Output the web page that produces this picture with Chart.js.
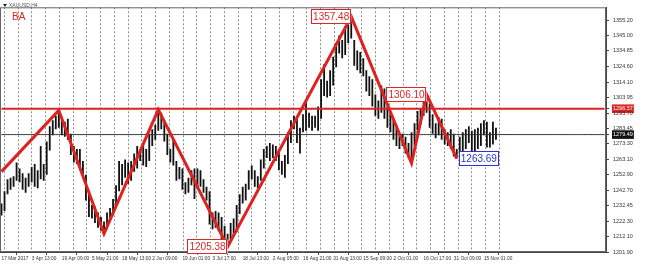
<!DOCTYPE html>
<html>
<head>
<meta charset="utf-8">
<script src="https://cdn.jsdelivr.net/npm/chart.js@4.4.0/dist/chart.umd.min.js"></script>
<style>
  html, body { margin: 0; padding: 0; background: #fff; }
  #wrap { width: 650px; height: 265px; }
</style>
</head>
<body>
<div id="wrap"><canvas id="xauChart"></canvas></div>
<script>
// XAUUSD H4 - one slot is roughly one trading day
const dateLabels = ['17 Mar 2017', '3 Apr 13:00', '19 Apr 09:00', '5 May 21:00', '18 May 13:00',
  '2 Jun 09:00', '19 Jun 01:00', '3 Jul 17:00', '18 Jul 13:00', '2 Aug 05:00', '16 Aug 21:00',
  '31 Aug 13:00', '15 Sep 09:00', '2 Oct 01:00', '16 Oct 17:00', '31 Oct 09:00', '15 Nov 01:00'];

const lows = [
  1226, 1229, 1240, 1243, 1245, 1249, 1248, 1243, 1241, 1245,
  1248, 1245, 1244, 1250, 1249, 1253, 1269, 1279, 1283, 1284,
  1279, 1278, 1276, 1266, 1261, 1260, 1258, 1251, 1236, 1225,
  1224, 1221, 1218, 1216, 1214, 1217, 1222, 1228, 1232, 1242,
  1246, 1251, 1247, 1249, 1255, 1257, 1262, 1259, 1258, 1262,
  1272, 1276, 1282, 1283, 1275, 1266, 1261, 1259, 1249, 1250,
  1243, 1240, 1241, 1246, 1237, 1244, 1245, 1241, 1236, 1220,
  1217, 1218, 1216, 1207, 1209, 1205.4, 1210, 1213, 1215, 1227,
  1234, 1236, 1243, 1250, 1245, 1244, 1249, 1257, 1264, 1262,
  1264, 1262, 1256, 1253, 1251, 1260, 1274, 1283, 1274, 1267,
  1281, 1282, 1284, 1282, 1284, 1282, 1290, 1305, 1304, 1305,
  1312, 1324, 1333, 1330, 1332, 1340, 1343, 1325, 1322, 1320,
  1318, 1308, 1305, 1298, 1292, 1290, 1294, 1290, 1284, 1281,
  1276, 1272, 1270, 1272, 1267, 1264, 1260.5, 1272, 1282, 1286,
  1292, 1294, 1284, 1280, 1277, 1279, 1276, 1273, 1272, 1270,
  1265, 1263.7, 1266, 1268, 1270, 1274, 1266, 1267, 1270, 1272,
  1279, 1271, 1271, 1273, 1276
];
const highs = [
  1234, 1242, 1250, 1251, 1252, 1261, 1257, 1254, 1251, 1254,
  1258, 1260, 1256, 1272, 1260, 1275, 1285, 1289, 1292, 1295.5,
  1290, 1288, 1290, 1280, 1272, 1270, 1270, 1262, 1253, 1240,
  1233, 1232, 1228, 1225, 1222, 1228, 1231, 1237, 1246, 1262,
  1260, 1263, 1261, 1262, 1267, 1272, 1270, 1273, 1270, 1280,
  1283, 1286, 1296, 1294, 1289, 1280, 1270, 1276, 1262, 1258,
  1257, 1248, 1251, 1256, 1257, 1257, 1256, 1250, 1245, 1242,
  1228, 1229, 1228, 1225, 1219, 1214, 1221, 1224, 1233, 1240,
  1245, 1247, 1256, 1259, 1256, 1252, 1263, 1270, 1272, 1274,
  1273, 1272, 1270, 1262, 1266, 1281, 1289, 1292, 1290, 1284,
  1293, 1301, 1294, 1292, 1292, 1298, 1316, 1326, 1315, 1322,
  1331, 1340, 1345, 1342, 1351, 1352, 1357.5, 1342, 1335, 1334,
  1330, 1322, 1318, 1316, 1306, 1302, 1312, 1310, 1298, 1294,
  1289, 1284, 1279, 1280, 1278, 1274, 1281, 1287, 1295, 1297,
  1305, 1306.1, 1300, 1293, 1287, 1291, 1290, 1283, 1281, 1283,
  1280, 1270, 1278, 1281, 1283, 1285, 1282, 1283, 1284, 1287,
  1289, 1288, 1281, 1288, 1284
];

// zigzag vertices (slot index, price)
const zzIdx = [0, 19, 34, 52, 75, 116, 136, 141, 151];
const zzVal = [1255, 1295.5, 1214, 1296, 1205.38, 1357.48, 1260.5, 1306.10, 1263.69];

// price tags on zigzag turns
const tagIdx = [75, 116, 141, 151];
const tagVal = [1205.38, 1357.48, 1306.10, 1263.69];
const tagSide = ['left', 'left', 'left', 'right'];
const tagColor = ['#d8282a', '#d8282a', '#d8282a', '#2a36c4'];

const resistance = 1296.57;
const bid = 1279.49;

const yTicks = [1355.20, 1345.00, 1334.85, 1324.60, 1314.10, 1303.95, 1296.57, 1293.70, 1283.45,
  1279.49, 1273.30, 1263.10, 1252.90, 1242.70, 1232.45, 1222.30, 1212.10, 1201.90];

const N = 201;
const labels = [];
const candles = [];
const zz = new Array(N).fill(null);
for (let i = 0; i < N; i++) {
  labels.push(i % 10 === 0 && dateLabels[i / 10] ? dateLabels[i / 10] : '');
  candles.push(i < lows.length ? [lows[i], highs[i]] : null);
}
zzIdx.forEach((k, j) => { zz[k] = zzVal[j]; });

const RED = '#dc2321';

const overlay = {
  id: 'overlay',
  afterDatasetsDraw(chart) {
    const { ctx, chartArea: a, scales: { x, y } } = chart;
    ctx.save();
    // frame
    ctx.strokeStyle = '#666';
    ctx.lineWidth = 1;
    ctx.strokeRect(a.left + 0.5, a.top + 0.5, a.right - a.left - 1, a.bottom - a.top - 1);

    // price tags
    ctx.font = '10px "Liberation Sans", Arial, sans-serif';
    ctx.textBaseline = 'middle';
    ctx.textAlign = 'left';
    tagIdx.forEach((k, j) => {
      const txt = tagVal[j].toFixed(2);
      const px = x.getPixelForValue(k);
      const py = y.getPixelForValue(tagVal[j]);
      const w = ctx.measureText(txt).width + 4, h = 15;
      const bx = tagSide[j] === 'left' ? px - w : px + 2;
      ctx.fillStyle = '#fff';
      ctx.fillRect(bx, py - h / 2, w, h);
      ctx.strokeStyle = tagColor[j];
      ctx.strokeRect(Math.round(bx) + 0.5, Math.round(py - h / 2) + 0.5, Math.round(w) - 1, h - 1);
      ctx.fillStyle = tagColor[j];
      ctx.fillText(txt, bx + 2, py + 0.5);
    });

    // symbol header
    ctx.fillStyle = '#222';
    ctx.beginPath();
    ctx.moveTo(3, 4); ctx.lineTo(7, 4); ctx.lineTo(5, 7); ctx.closePath();
    ctx.fill();
    ctx.font = '5px "Liberation Sans", Arial, sans-serif';
    ctx.fillStyle = '#555';
    ctx.fillText('XAUUSD,H4', 9, 6);
    ctx.font = '10px "Liberation Sans", Arial, sans-serif';
    ctx.fillStyle = RED;
    ctx.fillText('BA', 12, 17);
    ctx.restore();
  }
};

new Chart(document.getElementById('xauChart'), {
  type: 'bar',
  data: {
    labels: labels,
    datasets: [
      {
        type: 'line',
        data: zz,
        borderColor: RED,
        borderWidth: 3,
        pointRadius: 0,
        spanGaps: true,
        tension: 0,
        order: 0
      },
      {
        type: 'line',
        data: new Array(N).fill(resistance),
        borderColor: RED,
        borderWidth: 2,
        pointRadius: 0,
        order: 1
      },
      {
        type: 'line',
        data: new Array(N).fill(bid),
        borderColor: '#333',
        borderWidth: 1,
        pointRadius: 0,
        order: 2
      },
      {
        data: candles,
        backgroundColor: '#111',
        borderWidth: 0,
        barPercentage: 0.6,
        categoryPercentage: 1,
        order: 3
      }
    ]
  },
  options: {
    responsive: true,
    maintainAspectRatio: false,
    animation: false,
    layout: { padding: { top: 2, left: 0, right: 0, bottom: 0 } },
    plugins: {
      legend: { display: false },
      tooltip: { enabled: false }
    },
    scales: {
      x: {
        grid: { display: true, drawOnChartArea: false, drawTicks: true, tickLength: 3, color: '#444' },
        border: { display: true, color: '#444' },
        ticks: {
          autoSkip: false,
          maxRotation: 0,
          align: 'start',
          padding: 1,
          color: '#333',
          font: { size: 4.8, family: '"Liberation Sans", Arial, sans-serif' },
          callback: function (value) {
            const l = this.getLabelForValue(value);
            return l ? l : null;
          }
        },
        afterFit: (axis) => { axis.height = 13; }
      },
      xg: {
        type: 'linear',
        position: 'bottom',
        min: -0.205,
        max: 42.65,
        grid: { display: true, drawTicks: false, color: '#8c8c8c' },
        border: { display: false, dash: [2, 2] },
        ticks: { display: false },
        afterBuildTicks: (axis) => {
          axis.ticks = Array.from({ length: 36 }, (_, k) => ({ value: k }));
        },
        afterFit: (axis) => { axis.height = 0; }
      },
      y: {
        position: 'right',
        min: 1201.9,
        max: 1363.6,
        grid: { display: true, drawOnChartArea: false, drawTicks: true, tickLength: 3, color: '#444' },
        border: { display: true, color: '#444' },
        afterBuildTicks: (axis) => {
          axis.ticks = yTicks.map(v => ({ value: v }));
        },
        afterFit: (axis) => { axis.width = 44; },
        ticks: {
          padding: 4,
          font: { size: 5.5, family: '"Liberation Sans", Arial, sans-serif' },
          color: (c) => (c.tick && (c.tick.value === resistance || c.tick.value === bid)) ? '#fff' : '#333',
          showLabelBackdrop: (c) => !!(c.tick && (c.tick.value === resistance || c.tick.value === bid)),
          backdropColor: (c) => (c.tick && c.tick.value === resistance) ? RED : '#111',
          backdropPadding: 1,
          callback: (v) => Number(v).toFixed(2)
        }
      }
    }
  },
  plugins: [overlay]
});
</script>
</body>
</html>
